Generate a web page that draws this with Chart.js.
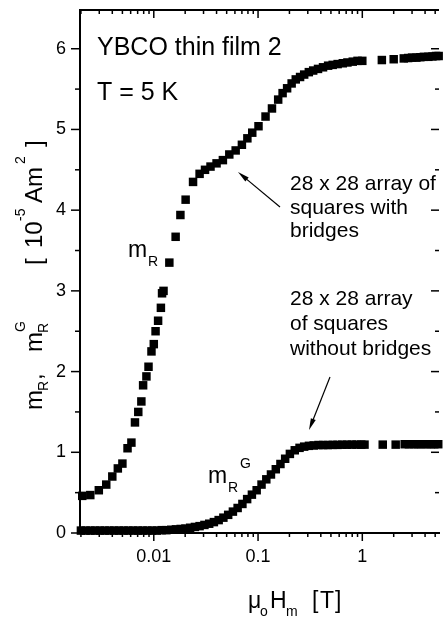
<!DOCTYPE html>
<html>
<head>
<meta charset="utf-8">
<script src="https://cdn.jsdelivr.net/npm/chart.js@4.4.1/dist/chart.umd.min.js"></script>
<style>
  html, body { margin: 0; padding: 0; background: #fff; overflow: hidden; }
</style>
</head>
<body>
<canvas id="myChart" width="445" height="619"></canvas>
<script>
// m_R : 28 x 28 array of squares with bridges  (field in T, moment in 1e-5 Am^2)
const hBridges = [0.00206, 0.00246, 0.00297, 0.0035, 0.0040, 0.00452, 0.0050, 0.0056, 0.0061, 0.0066,
  0.0071, 0.0076, 0.0079, 0.0085, 0.0089, 0.0095, 0.0100, 0.0104, 0.0110, 0.0117,
  0.0120, 0.0124, 0.0141, 0.0162, 0.0180, 0.0202, 0.0238, 0.0275, 0.031, 0.035,
  0.040, 0.046, 0.053, 0.061, 0.070, 0.079, 0.088, 0.101, 0.118, 0.136,
  0.156, 0.172, 0.19, 0.21, 0.23, 0.253, 0.277, 0.307, 0.338, 0.376,
  0.42, 0.47, 0.52, 0.58, 0.65, 0.72, 0.81, 0.90, 1.0, 1.54,
  2.0, 2.5, 2.75, 3.0, 3.3, 3.6, 3.9, 4.3, 4.7, 5.1, 5.4];
const mBridges = [0.46, 0.47, 0.53, 0.60, 0.70, 0.80, 0.86, 1.05, 1.12, 1.37,
  1.50, 1.63, 1.83, 1.94, 2.06, 2.25, 2.34, 2.50, 2.63, 2.79,
  2.97, 3.00, 3.35, 3.67, 3.94, 4.13, 4.35, 4.45, 4.50, 4.54,
  4.58, 4.62, 4.69, 4.74, 4.81, 4.89, 4.96, 5.04, 5.16, 5.26,
  5.37, 5.45, 5.51, 5.57, 5.62, 5.65, 5.68, 5.71, 5.73, 5.75,
  5.77, 5.79, 5.80, 5.81, 5.82, 5.83, 5.84, 5.85, 5.85, 5.86,
  5.87, 5.88, 5.885, 5.89, 5.89, 5.895, 5.90, 5.90, 5.905, 5.91, 5.91];

// m_R^G : 28 x 28 array of squares without bridges
const hNoBridges = [0.00200, 0.00222, 0.00247, 0.00274, 0.00304, 0.00338, 0.00375, 0.00417, 0.00463, 0.00514,
  0.00571, 0.00634, 0.00704, 0.00782, 0.00869, 0.00965, 0.0107, 0.0119, 0.0132, 0.0147,
  0.0163, 0.0181, 0.0201, 0.0223, 0.0248, 0.0275, 0.0306, 0.0340, 0.0377, 0.0419,
  0.0465, 0.0517, 0.0574, 0.0637, 0.0708, 0.0786, 0.0873, 0.097, 0.108, 0.12,
  0.133, 0.148, 0.164, 0.182, 0.202, 0.225, 0.25, 0.277, 0.308, 0.342,
  0.38, 0.422, 0.468, 0.52, 0.578, 0.642, 0.713, 0.792, 0.88, 0.977,
  1.05, 1.57, 2.09, 2.55, 2.8, 3.1, 3.4, 3.7, 4.1, 4.5, 4.9, 5.35];
const mNoBridges = [0.03, 0.03, 0.03, 0.03, 0.03, 0.03, 0.03, 0.03, 0.03, 0.03,
  0.03, 0.03, 0.03, 0.03, 0.03, 0.03, 0.03, 0.035, 0.035, 0.04,
  0.045, 0.05, 0.055, 0.065, 0.075, 0.085, 0.10, 0.115, 0.135, 0.16,
  0.19, 0.225, 0.265, 0.31, 0.36, 0.42, 0.475, 0.53, 0.60, 0.665,
  0.725, 0.79, 0.855, 0.92, 0.98, 1.025, 1.055, 1.07, 1.08, 1.085,
  1.09, 1.09, 1.09, 1.092, 1.092, 1.094, 1.094, 1.095, 1.095, 1.095,
  1.095, 1.095, 1.095, 1.10, 1.10, 1.10, 1.10, 1.10, 1.10, 1.10, 1.10, 1.10];

const xMin = 0.00196, xMax = 5.44;
const yMin = 0, yMax = 6.48;
const xTickValues = [0.01, 0.1, 1];
const xTickLabels = ['0.01', '0.1', '1'];
const yTickLabels = ['0', '1', '2', '3', '4', '5', '6'];

const FONT = '"Liberation Sans", Arial, Helvetica, sans-serif';

function toPoints(xs, ys) {
    return xs.map((x, i) => ({ x: x, y: ys[i] }));
}

// tick marks, frame, labels and arrows
const extras = {
    id: 'extras',
    afterDraw(chart) {
        const ctx = chart.ctx;
        const a = chart.chartArea;
        const sx = chart.scales.x;
        const sy = chart.scales.y;

        function line(x1, y1, x2, y2) {
            ctx.beginPath();
            ctx.moveTo(x1, y1);
            ctx.lineTo(x2, y2);
            ctx.stroke();
        }
        function txt(s, x, y, size) {
            ctx.font = size + 'px ' + FONT;
            ctx.fillText(s, x, y);
        }
        function arrow(x1, y1, x2, y2) {
            const ang = Math.atan2(y2 - y1, x2 - x1);
            const L = 12, w = 0.22;
            line(x1, y1, x2 - 6 * Math.cos(ang), y2 - 6 * Math.sin(ang));
            ctx.beginPath();
            ctx.moveTo(x2, y2);
            ctx.lineTo(x2 - L * Math.cos(ang - w), y2 - L * Math.sin(ang - w));
            ctx.lineTo(x2 - L * Math.cos(ang + w), y2 - L * Math.sin(ang + w));
            ctx.closePath();
            ctx.fill();
        }

        ctx.save();
        ctx.strokeStyle = '#000';
        ctx.fillStyle = '#000';

        // x ticks: bottom outward, top inward
        ctx.lineWidth = 1.5;
        for (let d = -3; d <= 0; d++) {
            for (let k = 1; k <= 9; k++) {
                const v = k * Math.pow(10, d);
                if (v < xMin || v > xMax) continue;
                const px = sx.getPixelForValue(v);
                const len = k === 1 ? 8 : 4;
                line(px, a.bottom, px, a.bottom + len);
                line(px, a.top, px, a.top + len);
            }
        }
        // y ticks: left outward, right inward
        for (let i = 0; i * 0.5 <= yMax; i++) {
            const py = sy.getPixelForValue(i * 0.5);
            const major = i % 2 === 0;
            line(a.left - (major ? 9 : 5), py, a.left, py);
            line(a.right - (major ? 8 : 4), py, a.right, py);
        }
        // top frame
        ctx.lineWidth = 2;
        line(a.left - 1, a.top, a.right, a.top);

        // texts inside the plot
        ctx.textAlign = 'left';
        ctx.textBaseline = 'alphabetic';
        txt('YBCO thin film 2', 97, 55, 25);
        txt('T = 5 K', 97, 100, 25);

        txt('m', 128, 257, 23);
        txt('R', 148, 266, 14);
        txt('m', 208, 483, 23);
        txt('R', 228, 492, 14);
        txt('G', 240, 468, 14);

        txt('28 x 28 array of', 290, 190, 21);
        txt('squares with', 290, 213.5, 21);
        txt('bridges', 290, 237, 21);
        txt('28 x 28 array', 290, 305, 21);
        txt('of squares', 290, 330, 21);
        txt('without bridges', 290, 355, 21);

        ctx.lineWidth = 1.2;
        arrow(280, 207, 238, 172);
        arrow(330, 377, 309, 430);

        // x axis title
        txt('\u03BC', 248, 608, 23);
        txt('o', 260, 616, 14);
        txt('H', 270, 608, 23);
        txt('m', 286, 616, 14);
        txt('[', 312, 608, 23);
        txt('T', 320, 608, 23);
        txt(']', 335, 608, 23);

        // y axis title (rotated)
        ctx.save();
        ctx.translate(42, 410);
        ctx.rotate(-Math.PI / 2);
        const parts = [
            [0, 'm', 24, 0], [19, 'R', 14, 6], [30, ',', 24, 0],
            [58, 'm', 24, 0], [77, 'R', 14, 6], [78, 'G', 14, -17],
            [145, '[', 24, 0], [162, '10', 24, 0], [189, '-5', 14, -17],
            [207, 'Am', 24, 0], [246, '2', 14, -17], [263, ']', 24, 0]
        ];
        parts.forEach(p => txt(p[1], p[0], p[3], p[2]));
        ctx.restore();

        ctx.restore();
    }
};

const ctx = document.getElementById('myChart');
new Chart(ctx, {
    type: 'scatter',
    data: {
        datasets: [
            {
                label: 'm_R',
                data: toPoints(hBridges, mBridges),
                pointStyle: 'rect',
                pointRadius: 6,
                pointBorderWidth: 0,
                backgroundColor: '#000',
                borderColor: '#000',
                showLine: false,
                clip: false
            },
            {
                label: 'm_R^G',
                data: toPoints(hNoBridges, mNoBridges),
                pointStyle: 'rect',
                pointRadius: 6,
                pointBorderWidth: 0,
                backgroundColor: '#000',
                borderColor: '#000',
                showLine: false,
                clip: false
            }
        ]
    },
    options: {
        responsive: false,
        animation: false,
        devicePixelRatio: 1,
        layout: { padding: { top: 10, right: 0, left: 0, bottom: 0 } },
        plugins: { legend: { display: false }, tooltip: { enabled: false } },
        scales: {
            x: {
                type: 'logarithmic',
                min: xMin,
                max: xMax,
                grid: { display: false, drawTicks: false },
                border: { display: true, color: '#000', width: 2 },
                ticks: {
                    autoSkip: false,
                    maxRotation: 0,
                    padding: 13,
                    color: '#000',
                    font: { family: FONT, size: 18 },
                    callback: function (v) {
                        const i = xTickValues.findIndex(t => Math.abs(t - v) / t < 1e-6);
                        return i >= 0 ? xTickLabels[i] : '';
                    }
                },
                afterFit: function (s) {
                    s.height = 86;
                    s.paddingLeft = 0;
                    s.paddingRight = 0;
                }
            },
            y: {
                min: yMin,
                max: yMax,
                grid: { display: false, drawTicks: false },
                border: { display: true, color: '#000', width: 2 },
                ticks: {
                    stepSize: 1,
                    padding: 14,
                    color: '#000',
                    font: { family: FONT, size: 18 },
                    callback: function (v) {
                        return Number.isInteger(v) && yTickLabels[v] !== undefined ? yTickLabels[v] : '';
                    }
                },
                afterFit: function (s) {
                    s.width = 80;
                    s.paddingTop = 0;
                    s.paddingBottom = 0;
                }
            }
        }
    },
    plugins: [extras]
});
</script>
</body>
</html>
